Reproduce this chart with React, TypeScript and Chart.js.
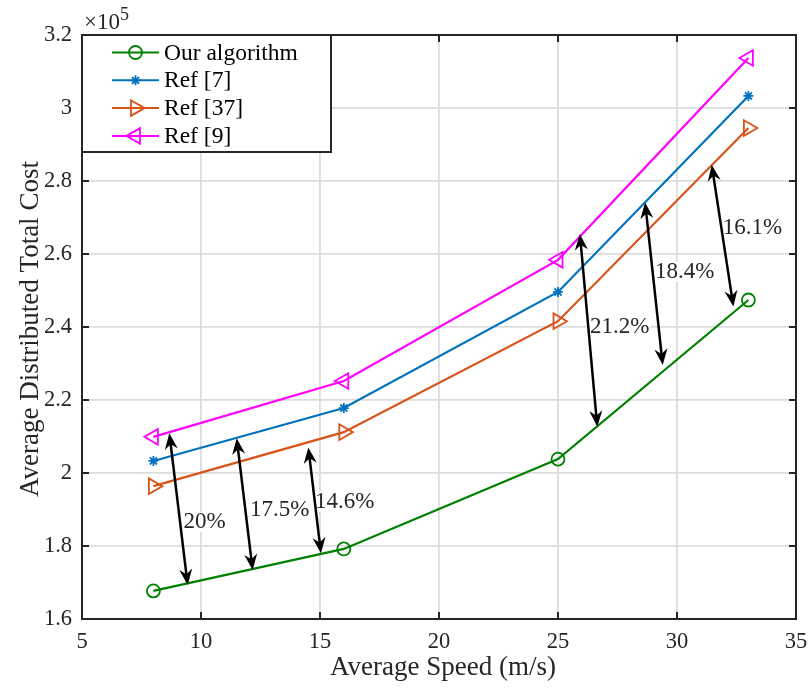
import React, { useEffect, useRef } from "react";
import { Chart, registerables } from "chart.js";

Chart.register(...registerables);

// ---- data (cost values in units of 10^5) ----
const speeds = [8, 16, 25, 33];
const ourAlgorithm = [1.677, 1.792, 2.038, 2.474];
const ref7 = [2.033, 2.178, 2.496, 3.033];
const ref37 = [1.964, 2.112, 2.416, 2.945];
const ref9 = [2.099, 2.252, 2.584, 3.137];

const seriesLabels = ["Our algorithm", "Ref [7]", "Ref [37]", "Ref [9]"];
const seriesColors = ["#008000", "#0072BD", "#D95319", "#FF00FF"];
const seriesMarkers = ["circle", "star", "triRight", "triLeft"];

const xTickValues = [5, 10, 15, 20, 25, 30, 35];
const yTickValues = [1.6, 1.8, 2.0, 2.2, 2.4, 2.6, 2.8, 3.0, 3.2];

// ---- gap annotations (double arrows) ----
const arrowTopX = [8.67, 11.5, 14.51, 25.92, 28.66, 31.46];
const arrowTopY = [2.109, 2.095, 2.07, 2.655, 2.741, 2.844];
const arrowBottomX = [9.44, 12.17, 15.04, 26.65, 29.4, 32.37];
const arrowBottomY = [1.693, 1.734, 1.78, 2.127, 2.296, 2.456];
const gapLabels = ["20%", "17.5%", "14.6%", "21.2%", "18.4%", "16.1%"];
const gapLabelX = [9.26, 12.06, 14.79, 26.34, 29.08, 31.92];
const gapLabelY = [1.866, 1.899, 1.922, 2.4, 2.551, 2.671];

const FONT = '"Liberation Serif", "Times New Roman", serif';
const INK = "#262626";

function drawMarker(ctx: CanvasRenderingContext2D, kind: string, x: number, y: number, color: string) {
  ctx.save();
  ctx.strokeStyle = color;
  ctx.lineWidth = 1.8;
  ctx.beginPath();
  if (kind === "circle") {
    ctx.arc(x, y, 6.5, 0, Math.PI * 2);
  } else if (kind === "star") {
    const r = 5;
    for (let k = 0; k < 4; k++) {
      const a = (k * Math.PI) / 4;
      ctx.moveTo(x - Math.cos(a) * r, y - Math.sin(a) * r);
      ctx.lineTo(x + Math.cos(a) * r, y + Math.sin(a) * r);
    }
  } else {
    const r = 9;
    let rad = ((kind === "triRight" ? 90 : -90) * Math.PI) / 180;
    for (let k = 0; k < 3; k++) {
      const px = x + Math.sin(rad) * r;
      const py = y - Math.cos(rad) * r;
      if (k === 0) ctx.moveTo(px, py);
      else ctx.lineTo(px, py);
      rad += (2 * Math.PI) / 3;
    }
    ctx.closePath();
  }
  ctx.stroke();
  ctx.restore();
}

function arrowHead(ctx: CanvasRenderingContext2D, tx: number, ty: number, fx: number, fy: number) {
  const ang = Math.atan2(ty - fy, tx - fx);
  ctx.save();
  ctx.translate(tx, ty);
  ctx.rotate(ang);
  ctx.beginPath();
  ctx.moveTo(0, 0);
  ctx.lineTo(-16, -6.5);
  ctx.lineTo(-11, 0);
  ctx.lineTo(-16, 6.5);
  ctx.closePath();
  ctx.fill();
  ctx.restore();
}

const overlayPlugin = {
  id: "overlay",
  beforeDatasetsDraw(chart: any) {
    const ctx: CanvasRenderingContext2D = chart.ctx;
    const xs = chart.scales.x;
    const ys = chart.scales.y;
    ctx.save();
    ctx.font = `23px ${FONT}`;
    gapLabels.forEach((t, i) => {
      const px = xs.getPixelForValue(gapLabelX[i]);
      const py = ys.getPixelForValue(gapLabelY[i]);
      const w = ctx.measureText(t).width;
      ctx.fillStyle = "#ffffff";
      ctx.fillRect(px - 1, py - 10, w + 2, 20);
    });
    ctx.restore();
  },
  afterDraw(chart: any) {
    const ctx: CanvasRenderingContext2D = chart.ctx;
    const xs = chart.scales.x;
    const ys = chart.scales.y;
    const { left, right, top, bottom } = chart.chartArea;
    ctx.save();

    // arrows
    ctx.strokeStyle = "#000";
    ctx.fillStyle = "#000";
    ctx.lineWidth = 2.5;
    arrowTopX.forEach((_, i) => {
      const x1 = xs.getPixelForValue(arrowTopX[i]);
      const y1 = ys.getPixelForValue(arrowTopY[i]);
      const x2 = xs.getPixelForValue(arrowBottomX[i]);
      const y2 = ys.getPixelForValue(arrowBottomY[i]);
      const len = Math.hypot(x2 - x1, y2 - y1);
      const ux = (x2 - x1) / len;
      const uy = (y2 - y1) / len;
      ctx.beginPath();
      ctx.moveTo(x1 + ux * 10, y1 + uy * 10);
      ctx.lineTo(x2 - ux * 10, y2 - uy * 10);
      ctx.stroke();
      arrowHead(ctx, x1, y1, x2, y2);
      arrowHead(ctx, x2, y2, x1, y1);
    });

    // gap labels
    ctx.font = `23px ${FONT}`;
    ctx.fillStyle = INK;
    ctx.textAlign = "left";
    ctx.textBaseline = "middle";
    gapLabels.forEach((t, i) => {
      ctx.fillText(t, xs.getPixelForValue(gapLabelX[i]), ys.getPixelForValue(gapLabelY[i]));
    });

    // axes box and inner ticks
    ctx.strokeStyle = INK;
    ctx.lineWidth = 2;
    ctx.strokeRect(left, top, right - left, bottom - top);
    ctx.beginPath();
    xTickValues.forEach((v) => {
      const px = xs.getPixelForValue(v);
      ctx.moveTo(px, bottom);
      ctx.lineTo(px, bottom - 7);
      ctx.moveTo(px, top);
      ctx.lineTo(px, top + 7);
    });
    yTickValues.forEach((v) => {
      const py = ys.getPixelForValue(v);
      ctx.moveTo(left, py);
      ctx.lineTo(left + 7, py);
      ctx.moveTo(right, py);
      ctx.lineTo(right - 7, py);
    });
    ctx.stroke();

    // exponent label
    ctx.fillStyle = INK;
    ctx.textBaseline = "alphabetic";
    ctx.textAlign = "left";
    ctx.font = `23px ${FONT}`;
    ctx.fillText("\u00d710", left + 2, 29);
    const w10 = ctx.measureText("\u00d710").width;
    ctx.font = `18px ${FONT}`;
    ctx.fillText("5", left + 2 + w10, 20);

    // axis titles
    ctx.font = `27px ${FONT}`;
    ctx.textAlign = "center";
    ctx.textBaseline = "middle";
    ctx.fillText("Average Speed (m/s)", (left + right) / 2 + 4, 668);
    ctx.save();
    ctx.translate(31, (top + bottom) / 2 + 2);
    ctx.rotate(-Math.PI / 2);
    ctx.fillText("Average Distributed Total Cost", 0, 0);
    ctx.restore();

    // legend
    const lx0 = left, ly0 = top, lx1 = 331, ly1 = 152;
    ctx.fillStyle = "#ffffff";
    ctx.fillRect(lx0, ly0, lx1 - lx0, ly1 - ly0);
    ctx.strokeStyle = INK;
    ctx.lineWidth = 2;
    ctx.strokeRect(lx0, ly0, lx1 - lx0, ly1 - ly0);
    chart.data.datasets.forEach((ds: any, i: number) => {
      const cy = 52.5 + i * 27.8;
      ctx.strokeStyle = ds.borderColor;
      ctx.lineWidth = 2;
      ctx.beginPath();
      ctx.moveTo(112, cy);
      ctx.lineTo(159, cy);
      ctx.stroke();
      drawMarker(ctx, seriesMarkers[i], 135.5, cy, ds.borderColor);
      ctx.fillStyle = "#000";
      ctx.font = `23.5px ${FONT}`;
      ctx.textAlign = "left";
      ctx.textBaseline = "middle";
      ctx.fillText(ds.label, 164, cy + 1);
    });

    ctx.restore();
  },
};

export default function App() {
  const canvasRef = useRef<HTMLCanvasElement | null>(null);

  useEffect(() => {
    document.body.style.margin = "0";
    const canvas = canvasRef.current;
    if (!canvas) return;
    const allSeries = [ourAlgorithm, ref7, ref37, ref9];
    const pointStyles: any[] = ["circle", "star", "triangle", "triangle"];
    const rotations = [0, 0, 90, -90];
    const radii = [6.5, 5, 9, 9];
    const chart = new Chart(canvas, {
      type: "line",
      data: {
        datasets: allSeries.map((vals, i) => ({
          label: seriesLabels[i],
          data: speeds.map((s, k) => ({ x: s, y: vals[k] })),
          borderColor: seriesColors[i],
          backgroundColor: "transparent",
          borderWidth: 2.2,
          pointStyle: pointStyles[i],
          pointRotation: rotations[i],
          pointRadius: radii[i],
          pointBorderWidth: 1.8,
          pointBorderColor: seriesColors[i],
          pointBackgroundColor: "transparent",
          tension: 0,
          fill: false,
        })),
      },
      options: {
        animation: false,
        responsive: false,
        devicePixelRatio: 1,
        layout: { padding: { top: 35, right: 16, left: 0, bottom: 0 } },
        plugins: { legend: { display: false }, tooltip: { enabled: false } },
        scales: {
          x: {
            type: "linear",
            min: 5,
            max: 35,
            afterBuildTicks: (s: any) => {
              s.ticks = xTickValues.map((v) => ({ value: v }));
            },
            afterFit: (s: any) => {
              s.height = 72;
              s.paddingLeft = 0;
              s.paddingRight = 0;
            },
            grid: { color: "#dcdcdc", lineWidth: 1.8, drawTicks: false },
            border: { display: false },
            ticks: {
              padding: 10,
              color: INK,
              font: { family: FONT, size: 22.5 },
              maxRotation: 0,
              callback: (v: any) => String(v),
            },
          },
          y: {
            type: "linear",
            min: 1.6,
            max: 3.2,
            afterBuildTicks: (s: any) => {
              s.ticks = yTickValues.map((v) => ({ value: v }));
            },
            afterFit: (s: any) => {
              s.width = 82;
              s.paddingTop = 0;
              s.paddingBottom = 0;
            },
            grid: { color: "#dcdcdc", lineWidth: 1.8, drawTicks: false },
            border: { display: false },
            ticks: {
              padding: 10,
              color: INK,
              font: { family: FONT, size: 22.5 },
              callback: (v: any) => String(parseFloat(Number(v).toFixed(1))),
            },
          },
        },
      } as any,
      plugins: [overlayPlugin],
    });
    return () => chart.destroy();
  }, []);

  return (
    <div style={{ position: "fixed", left: 0, top: 0, width: 812, height: 691, background: "#fff" }}>
      <canvas ref={canvasRef} width={812} height={691} />
    </div>
  );
}
